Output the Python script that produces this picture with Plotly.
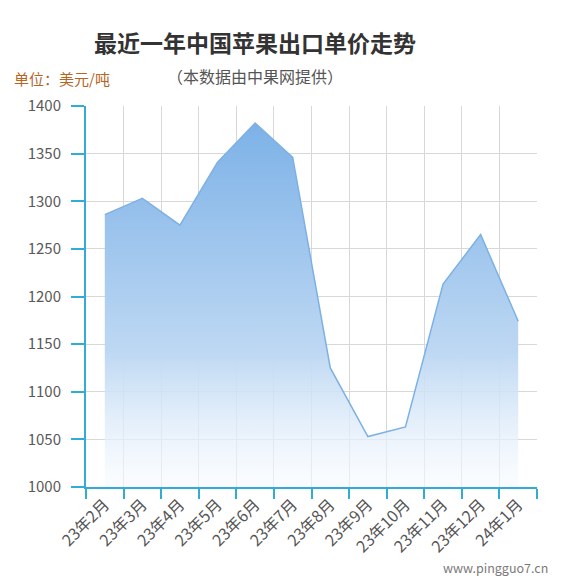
import plotly.graph_objects as go

months = ['23年2月', '23年3月', '23年4月', '23年5月', '23年6月', '23年7月',
          '23年8月', '23年9月', '23年10月', '23年11月', '23年12月', '24年1月']
price = [1286, 1303, 1275, 1341, 1382, 1346, 1125, 1053, 1063, 1213, 1265, 1174]
y_ticks = [1000, 1050, 1100, 1150, 1200, 1250, 1300, 1350, 1400]

axis_color = '#33acd3'
font_name = 'Noto Sans CJK SC'

fig = go.Figure()
fig.add_trace(go.Scatter(
    x=months, y=price, mode='lines', fill='tozeroy',
    line=dict(color='#7db1e3', width=1.5),
    fillgradient=dict(
        type='vertical', start=1010, stop=1385,
        colorscale=[[0, 'rgba(245,249,254,0.6)'], [0.35, 'rgba(190,216,243,1)'],
                    [1, 'rgba(124,177,231,1)']],
    ),
    showlegend=False, hoverinfo='x+y',
))

# page body has an 8px margin, so the figure is shrunk and shifted to compensate
fig.update_layout(
    width=558, height=578, autosize=False,
    margin=dict(l=78, r=29, t=98, b=99),
    plot_bgcolor='white', paper_bgcolor='white',
    font=dict(family=font_name, color='#555555', size=14),
)
fig.update_xaxes(
    type='category', range=[-0.5, 11.5], tickson='boundaries',
    ticks='outside', ticklen=10, tickcolor=axis_color, tickwidth=1.5,
    showline=True, linecolor=axis_color, linewidth=2,
    showgrid=True, gridcolor='#d8d8d8', gridwidth=1.2,
    tickangle=-45, tickfont=dict(size=16, color='#555555'),
)
fig.update_yaxes(
    range=[1000, 1400], tickvals=y_ticks,
    ticks='outside', ticklen=13, tickcolor=axis_color, tickwidth=1.5,
    showline=True, linecolor=axis_color, linewidth=2,
    showgrid=True, gridcolor='#d8d8d8', gridwidth=1.2, zeroline=False,
    tickfont=dict(size=15, color='#5a5a5a'), ticklabelstandoff=7,
)

fig.add_annotation(text='<b>最近一年中国苹果出口单价走势</b>', xref='paper', yref='paper',
                   x=(255 - 86) / 451, y=1 + (106 - 42) / 381, xanchor='center', yanchor='middle',
                   showarrow=False, font=dict(size=23, color='#333333', family=font_name))
fig.add_annotation(text='（本数据由中果网提供）', xref='paper', yref='paper',
                   x=(255 - 86) / 451, y=1 + (106 - 76) / 381, xanchor='center', yanchor='middle',
                   showarrow=False, font=dict(size=16, color='#555555', family=font_name))
fig.add_annotation(text='单位：美元/吨', xref='paper', yref='paper',
                   x=(12 - 86) / 451, y=1 + (106 - 78) / 381, xanchor='left', yanchor='middle',
                   showarrow=False, font=dict(size=15, color='#b4661f', family=font_name))
fig.add_annotation(text='www.pingguo7.cn', xref='paper', yref='paper',
                   x=(550 - 86) / 451, y=-(567 - 487) / 381, xanchor='right', yanchor='middle',
                   showarrow=False, font=dict(size=12.5, color='#7a7a7a', family=font_name))

fig.write_html('out.html')
